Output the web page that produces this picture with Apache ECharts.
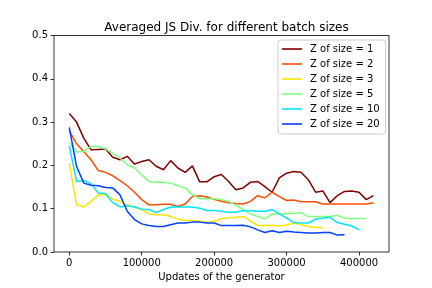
<!DOCTYPE html>
<html>
<head>
<meta charset="utf-8">
<script src="https://cdn.jsdelivr.net/npm/echarts@6/dist/echarts.min.js"></script>
<style>html,body{margin:0;padding:0;background:#fff}#c{width:432px;height:288px}</style>
</head>
<body>
<div id="c"></div>
<script>
const updates = [0,10000,20000,30000,40000,50000,60000,70000,80000,90000,100000,110000,120000,130000,140000,150000,160000,170000,180000,190000,200000,210000,220000,230000,240000,250000,260000,270000,280000,290000,300000,310000,320000,330000,340000,350000,360000,370000,380000,390000,400000,410000,420000];
const size1 = [0.32,0.30,0.263,0.236,0.237,0.238,0.219,0.213,0.221,0.203,0.209,0.213,0.198,0.19,0.211,0.194,0.184,0.199,0.162,0.162,0.174,0.179,0.163,0.144,0.148,0.161,0.163,0.151,0.138,0.171,0.182,0.186,0.184,0.167,0.138,0.141,0.114,0.13,0.14,0.141,0.138,0.121,0.13];
const size2 = [0.28,0.25,0.232,0.213,0.188,0.184,0.176,0.165,0.153,0.138,0.121,0.109,0.109,0.11,0.11,0.105,0.111,0.128,0.13,0.127,0.122,0.117,0.114,0.112,0.111,0.117,0.13,0.125,0.138,0.128,0.119,0.12,0.116,0.116,0.116,0.111,0.111,0.111,0.111,0.111,0.111,0.111,0.114];
const size3 = [0.205,0.109,0.104,0.117,0.132,0.132,0.122,0.117,0.109,0.104,0.098,0.088,0.086,0.086,0.082,0.076,0.073,0.073,0.071,0.069,0.071,0.077,0.079,0.08,0.082,0.072,0.061,0.061,0.062,0.06,0.063,0.067,0.063,0.059,0.057,0.056];
const size5 = [0.253,0.231,0.232,0.244,0.244,0.238,0.228,0.217,0.201,0.194,0.178,0.163,0.161,0.161,0.159,0.153,0.148,0.132,0.123,0.123,0.123,0.121,0.117,0.108,0.098,0.088,0.082,0.076,0.088,0.088,0.089,0.089,0.091,0.082,0.082,0.082,0.082,0.085,0.078,0.077,0.078,0.077];
const size10 = [0.245,0.163,0.165,0.158,0.136,0.135,0.114,0.104,0.107,0.104,0.099,0.098,0.091,0.098,0.104,0.104,0.104,0.104,0.101,0.096,0.096,0.094,0.092,0.092,0.096,0.095,0.094,0.094,0.098,0.088,0.078,0.068,0.067,0.067,0.076,0.078,0.08,0.068,0.064,0.06,0.051];
const size20 = [0.288,0.198,0.159,0.154,0.153,0.149,0.148,0.132,0.094,0.075,0.065,0.061,0.059,0.059,0.063,0.067,0.067,0.069,0.069,0.067,0.067,0.061,0.061,0.061,0.062,0.058,0.051,0.045,0.049,0.045,0.048,0.046,0.045,0.044,0.044,0.045,0.045,0.039,0.04];
const seriesNames = ['Z of size = 1','Z of size = 2','Z of size = 3','Z of size = 5','Z of size = 10','Z of size = 20'];
const xTicks = [0,100000,200000,300000,400000];
const yTicks = [0,0.1,0.2,0.3,0.4,0.5];

const colors = ['#800000','#ff4d00','#ffe600','#80ff80','#00e6ff','#0040ff'];
const allData = [size1,size2,size3,size5,size10,size20];
const font = 'DejaVu Sans';

const chart = echarts.init(document.getElementById('c'), null, {renderer:'canvas'});
chart.setOption({
  animation:false,
  backgroundColor:'#fff',
  textStyle:{fontFamily:font},
  title:{
    text:'Averaged JS Div. for different batch sizes',
    left:221.5, top:17, textAlign:'center',
    textStyle:{fontFamily:font,fontSize:12,fontWeight:'normal',color:'#000'}
  },
  grid:{left:54,right:43,top:35.5,bottom:36,show:true,borderColor:'#000',borderWidth:0.8,backgroundColor:'transparent'},
  legend:{
    orient:'vertical', left:278, top:40,
    data:seriesNames,
    icon:'rect', itemWidth:20, itemHeight:1.6, itemGap:3,
    padding:[3,6,4,4],
    borderColor:'#cccccc', borderWidth:1, borderRadius:3, backgroundColor:'rgba(255,255,255,0.8)',
    textStyle:{fontFamily:font,fontSize:10,color:'#000',lineHeight:12,padding:[0,0,0,3]}
  },
  xAxis:{
    type:'value', min:-21100, max:441400,
    axisLine:{show:false,onZero:false},
    splitLine:{show:false},
    axisTick:{show:true,customValues:xTicks,length:3.5,lineStyle:{color:'#000',width:0.8}},
    axisLabel:{customValues:xTicks,margin:6,fontFamily:font,fontSize:10,color:'#000',formatter:v=>String(v)},
    name:'Updates of the generator', nameLocation:'middle', nameGap:19,
    nameTextStyle:{fontFamily:font,fontSize:10,color:'#000',verticalAlign:'top'}
  },
  yAxis:{
    type:'value', min:0, max:0.5, interval:0.1,
    axisLine:{show:false,onZero:false},
    splitLine:{show:false},
    axisTick:{show:true,customValues:yTicks,length:3.5,lineStyle:{color:'#000',width:0.8}},
    axisLabel:{customValues:yTicks,margin:6,fontFamily:font,fontSize:10,color:'#000',formatter:v=>v.toFixed(1)}
  },
  series: allData.map((arr,i)=>({
    name:seriesNames[i], type:'line', showSymbol:false, symbol:'none',
    color:colors[i],
    lineStyle:{width:1.5,color:colors[i]},
    data:arr.map((y,j)=>[updates[j],y])
  }))
});
</script>
</body>
</html>
